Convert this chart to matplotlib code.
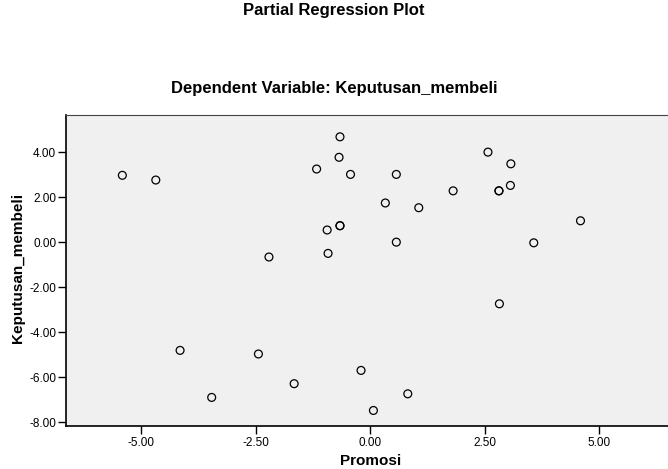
import numpy as np
import matplotlib
matplotlib.use("Agg")
import matplotlib.pyplot as plt

plt.rcParams['font.family'] = ['Liberation Sans', 'DejaVu Sans']

# partial residuals: Promosi vs Keputusan_membeli
promosi = [-5.41, -4.68, -1.17, -2.21, -0.94, -0.92, -0.66, -0.68, -0.43, 0.57,
           -0.66, -0.66, 1.81, 0.33, 1.06, 2.57, 3.07, 2.81, 2.81, 3.06,
           0.57, 3.57, 4.59, 2.82, -4.15, -2.44, -3.46, -1.66, -0.20, 0.82, 0.07]
keputusan = [2.98, 2.77, 3.26, -0.65, 0.55, -0.49, 4.69, 3.78, 3.02, 3.02,
             0.74, 0.74, 2.29, 1.75, 1.54, 4.01, 3.49, 2.29, 2.29, 2.53,
             0.01, -0.02, 0.96, -2.73, -4.80, -4.96, -6.89, -6.28, -5.69, -6.73, -7.47]

xticks = [-5.0, -2.5, 0.0, 2.5, 5.0]
yticks = [-8.0, -6.0, -4.0, -2.0, 0.0, 2.0, 4.0]

W, H = 668, 469
fig = plt.figure(figsize=(W / 100, H / 100), dpi=100)
ax = fig.add_axes([66 / W, 1 - 426 / H, (668 - 66) / W, (426 - 115) / H])
ax.set_facecolor('#f0f0f0')

ax.scatter(promosi, keputusan, s=32, facecolors='none', edgecolors='black', linewidths=0.9)

ax.set_xlim(-6.64, 6.50)
ax.set_ylim(-8.16, 5.66)
ax.set_xticks(xticks)
ax.set_xticklabels(['%.2f' % v for v in xticks])
ax.set_yticks(yticks)
ax.set_yticklabels(['%.2f' % v for v in yticks])
ax.tick_params(direction='out', length=6, width=1, labelsize=8.5, colors='black')
ax.tick_params(axis='y', pad=1)
ax.tick_params(axis='x', pad=2)

ax.spines['right'].set_visible(False)
ax.spines['top'].set_color('#444444')
ax.spines['left'].set_linewidth(1.2)
ax.spines['bottom'].set_linewidth(1.2)

fig.text(371 / W, 1 - 461 / H, 'Promosi', ha='center', va='center', fontsize=11, fontweight='bold')
fig.text(18 / W, 1 - 268 / H, 'Keputusan_membeli', ha='center', va='center', rotation=90,
         fontsize=11, fontweight='bold')
fig.text(334 / W, 1 - 11 / H, 'Partial Regression Plot', ha='center', va='center',
         fontsize=12, fontweight='bold')
fig.text(334 / W, 1 - 88 / H, 'Dependent Variable: Keputusan_membeli', ha='center', va='center',
         fontsize=12, fontweight='bold')

fig.savefig('out.png', dpi=100)
